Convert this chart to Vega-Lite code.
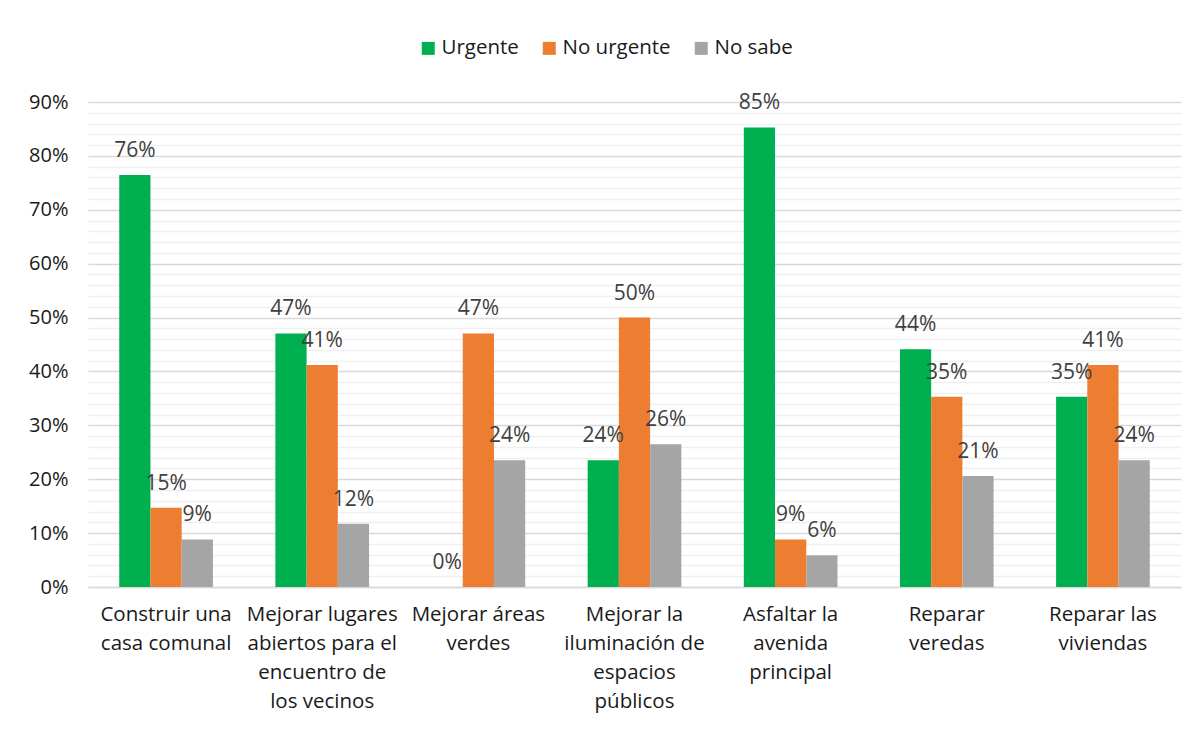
{
  "$schema": "https://vega.github.io/schema/vega-lite/v6.json",
  "autosize": "none",
  "width": 1093,
  "height": 485,
  "padding": {"left": 88, "top": 102, "right": 21, "bottom": 146},
  "background": "white",
  "config": {
    "font": "Open Sans",
    "view": {"stroke": null}
  },
  "data": {
    "values": [
      {"accion": "Construir una casa comunal", "respuesta": "Urgente", "pct": 0.7647},
      {"accion": "Construir una casa comunal", "respuesta": "No urgente", "pct": 0.1471},
      {"accion": "Construir una casa comunal", "respuesta": "No sabe", "pct": 0.0882},
      {"accion": "Mejorar lugares abiertos para el encuentro de los vecinos", "respuesta": "Urgente", "pct": 0.4706},
      {"accion": "Mejorar lugares abiertos para el encuentro de los vecinos", "respuesta": "No urgente", "pct": 0.4118},
      {"accion": "Mejorar lugares abiertos para el encuentro de los vecinos", "respuesta": "No sabe", "pct": 0.1176},
      {"accion": "Mejorar áreas verdes", "respuesta": "Urgente", "pct": 0},
      {"accion": "Mejorar áreas verdes", "respuesta": "No urgente", "pct": 0.4706},
      {"accion": "Mejorar áreas verdes", "respuesta": "No sabe", "pct": 0.2353},
      {"accion": "Mejorar la iluminación de espacios públicos", "respuesta": "Urgente", "pct": 0.2353},
      {"accion": "Mejorar la iluminación de espacios públicos", "respuesta": "No urgente", "pct": 0.5},
      {"accion": "Mejorar la iluminación de espacios públicos", "respuesta": "No sabe", "pct": 0.2647},
      {"accion": "Asfaltar la avenida principal", "respuesta": "Urgente", "pct": 0.8529},
      {"accion": "Asfaltar la avenida principal", "respuesta": "No urgente", "pct": 0.0882},
      {"accion": "Asfaltar la avenida principal", "respuesta": "No sabe", "pct": 0.0588},
      {"accion": "Reparar veredas", "respuesta": "Urgente", "pct": 0.4412},
      {"accion": "Reparar veredas", "respuesta": "No urgente", "pct": 0.3529},
      {"accion": "Reparar veredas", "respuesta": "No sabe", "pct": 0.2059},
      {"accion": "Reparar las viviendas", "respuesta": "Urgente", "pct": 0.3529},
      {"accion": "Reparar las viviendas", "respuesta": "No urgente", "pct": 0.4118},
      {"accion": "Reparar las viviendas", "respuesta": "No sabe", "pct": 0.2353}
    ]
  },
  "encoding": {
    "x": {
      "field": "accion",
      "type": "nominal",
      "sort": null,
      "scale": {"paddingInner": 0.4, "paddingOuter": 0.2},
      "axis": {
        "title": null,
        "labelAngle": 0,
        "ticks": false,
        "domain": true,
        "domainColor": "#d9d9d9",
        "domainWidth": 1.5,
        "labelFontSize": 20.5,
        "labelColor": "#1a1a1a",
        "labelPadding": 17,
        "labelLineHeight": 29,
        "labelBaseline": "top",
        "labelLimit": 300,
        "labelExpr": "{'Construir una casa comunal': ['Construir una', 'casa comunal'], 'Mejorar lugares abiertos para el encuentro de los vecinos': ['Mejorar lugares', 'abiertos para el', 'encuentro de', 'los vecinos'], 'Mejorar áreas verdes': ['Mejorar áreas', 'verdes'], 'Mejorar la iluminación de espacios públicos': ['Mejorar la', 'iluminación de', 'espacios', 'públicos'], 'Asfaltar la avenida principal': ['Asfaltar la', 'avenida', 'principal'], 'Reparar veredas': ['Reparar', 'veredas'], 'Reparar las viviendas': ['Reparar las', 'viviendas']}[datum.value]"
      }
    },
    "xOffset": {"field": "respuesta", "type": "nominal", "sort": ["Urgente", "No urgente", "No sabe"]},
    "y": {
      "field": "pct",
      "type": "quantitative",
      "scale": {"domain": [0, 0.9], "nice": false},
      "axis": {
        "title": null,
        "values": [0, 0.02, 0.04, 0.06, 0.08, 0.1, 0.12, 0.14, 0.16, 0.18, 0.2, 0.22, 0.24, 0.26, 0.28, 0.3, 0.32, 0.34, 0.36, 0.38, 0.4, 0.42, 0.44, 0.46, 0.48, 0.5, 0.52, 0.54, 0.56, 0.58, 0.6, 0.62, 0.64, 0.66, 0.68, 0.7, 0.72, 0.74, 0.76, 0.78, 0.8, 0.82, 0.84, 0.86, 0.88, 0.9],
        "labelExpr": "round(datum.value * 100) % 10 === 0 ? format(datum.value, '.0%') : ''",
        "ticks": false,
        "domain": false,
        "labelFontSize": 20,
        "labelColor": "#1a1a1a",
        "labelPadding": 20,
        "gridColor": {"condition": {"test": "round(datum.value * 100) % 10 === 0", "value": "#d9d9d9"}, "value": "#f0f0f0"},
        "gridWidth": 1.5
      }
    }
  },
  "layer": [
    {
      "mark": {"type": "bar"},
      "encoding": {
        "color": {
          "field": "respuesta",
          "type": "nominal",
          "sort": ["Urgente", "No urgente", "No sabe"],
          "scale": {"domain": ["Urgente", "No urgente", "No sabe"], "range": ["#00b050", "#ed7d31", "#a5a5a5"]},
          "legend": {
            "title": null,
            "orient": "none",
            "direction": "horizontal",
            "legendX": 330,
            "legendY": -64,
            "symbolType": "square",
            "symbolSize": 169,
            "symbolStrokeWidth": 0,
            "labelFontSize": 20.5,
            "labelColor": "#1a1a1a",
            "columnPadding": 20,
            "labelOffset": 3
          }
        }
      }
    },
    {
      "mark": {"type": "text", "baseline": "alphabetic", "dy": -18, "fontSize": 21, "color": "#404040"},
      "encoding": {
        "text": {"field": "pct", "type": "quantitative", "format": ".0%"}
      }
    }
  ]
}
